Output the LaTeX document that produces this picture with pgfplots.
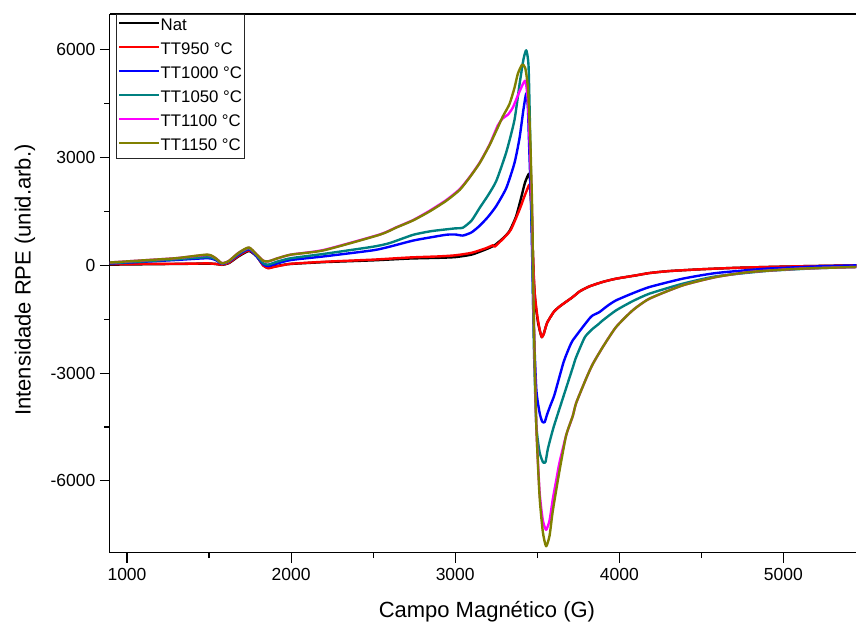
\documentclass[border=0pt]{standalone}
\usepackage{pgfplots}
\pgfplotsset{compat=1.18}
\usepackage{fontspec}
\setmainfont{Liberation Sans}
\definecolor{cteal}{RGB}{0,128,128}
\definecolor{colive}{RGB}{128,128,0}
\definecolor{cmag}{RGB}{255,0,255}

\begin{document}
\begin{tikzpicture}[x=1pt,y=1pt]
\begin{axis}[
  at={(0,0)}, anchor=south west,
  scale only axis, width=747pt, height=539pt,
  xmin=896, xmax=5445, ymin=-8000, ymax=7000,
  axis x line*=bottom, axis y line*=left,
  axis line style={line width=1.1pt, black, -},
  tick align=outside,
  major tick length=10pt, minor tick length=5.5pt,
  tick style={line width=1.1pt, black},
  xtick={1000,2000,3000,4000,5000},
  xticklabels={1000,2000,3000,4000,5000},
  ytick={-6000,-3000,0,3000,6000},
  yticklabels={-6000,-3000,0,3000,6000},
  minor x tick num=1, minor y tick num=1,
  ticklabel style={font=\fontsize{17.5}{20}\selectfont},
  xticklabel style={yshift=-2pt},
  yticklabel style={xshift=-1pt},
  xlabel={Campo Magnético (G)},
  ylabel={Intensidade RPE (unid.arb.)},
  xlabel style={font=\fontsize{22}{26}\selectfont, at={(axis description cs:0.505,-0.11)}, anchor=center},
  ylabel style={font=\fontsize{22}{26}\selectfont, at={(axis description cs:-0.114,0.506)}, anchor=center, rotate=0},
  legend style={at={(axis description cs:0.008,1)}, anchor=north west,
    draw=black!85, line width=0.8pt, fill=white,
    font=\fontsize{16.8}{19}\selectfont,
    inner xsep=2pt, inner ysep=0pt, row sep=0pt,
    nodes={inner sep=0pt, text height=13pt, text depth=4pt, inner ysep=3.5pt}},
  legend cell align=left,
  legend image code/.code={\draw[#1, line width=2.4pt] (0pt,0.6ex) -- (40pt,0.6ex);},
  every axis plot/.append style={line width=2.4pt, line join=round, smooth, tension=0.35},
]
% Nat
\addplot[black] coordinates {
(896,20)(1000,25)(1200,35)(1400,45)(1490,50)(1540,40)(1578,15)(1620,60)(1680,250)(1743,400)(1790,250)(1830,0)(1860,-70)(1900,-30)(1960,20)(2000,40)(2200,90)(2500,140)(2722,190)(2900,210)(3000,230)(3100,300)(3189,450)(3240,560)(3290,750)(3330,950)(3370,1350)(3400,1850)(3425,2300)(3449,2550)(3458,2300)(3465,1500)(3472,500)(3480,-500)(3490,-1100)(3505,-1600)(3520,-1900)(3528,-2000)(3540,-1900)(3560,-1600)(3600,-1300)(3635,-1150)(3680,-1000)(3716,-883)(3760,-720)(3818,-585)(3900,-460)(3980,-371)(4100,-280)(4183,-214)(4300,-160)(4487,-111)(4700,-70)(4893,-46)(5100,-25)(5300,-10)(5445,0)
};
\addlegendentry{Nat}
% TT950
\addplot[red] coordinates {
(896,30)(1000,35)(1200,42)(1400,48)(1490,55)(1540,40)(1578,20)(1620,70)(1680,270)(1743,420)(1790,260)(1830,0)(1860,-80)(1900,-40)(1960,15)(2000,45)(2200,100)(2500,160)(2722,220)(2900,250)(3000,280)(3100,350)(3189,480)(3230,560)(3240,520)(3260,600)(3300,780)(3340,1000)(3392,1552)(3420,1900)(3433,2051)(3453,2248)(3462,1800)(3470,800)(3477,-100)(3485,-800)(3500,-1400)(3515,-1800)(3528,-2000)(3540,-1900)(3560,-1600)(3600,-1300)(3635,-1150)(3680,-1000)(3716,-883)(3760,-720)(3818,-585)(3900,-460)(3980,-371)(4100,-280)(4183,-214)(4300,-160)(4487,-111)(4700,-70)(4893,-46)(5100,-25)(5300,-10)(5445,0)
};
\addlegendentry{TT950 °C}
% TT1000
\addplot[blue] coordinates {
(896,50)(1100,100)(1300,150)(1490,200)(1540,150)(1578,40)(1620,100)(1680,300)(1743,450)(1790,250)(1830,30)(1860,-20)(1920,60)(2000,150)(2200,250)(2500,420)(2600,520)(2743,690)(2850,780)(2946,853)(3000,860)(3047,830)(3100,920)(3149,1103)(3200,1350)(3250,1652)(3311,2151)(3361,2847)(3392,3546)(3416,4346)(3433,4792)(3443,4400)(3449,3546)(3463,1552)(3477,-1440)(3494,-3435)(3514,-4100)(3530,-4350)(3545,-4365)(3560,-4150)(3580,-3900)(3605,-3600)(3660,-2700)(3696,-2276)(3716,-2090)(3777,-1719)(3818,-1480)(3838,-1393)(3879,-1300)(3930,-1120)(3980,-975)(4080,-780)(4183,-604)(4386,-371)(4589,-214)(4893,-93)(5200,-30)(5445,0)
};
\addlegendentry{TT1000 °C}
% TT1050
\addplot[cteal] coordinates {
(896,60)(1100,110)(1300,170)(1490,230)(1540,170)(1578,50)(1620,110)(1680,320)(1743,470)(1790,280)(1830,60)(1860,20)(1920,110)(2000,200)(2200,320)(2500,520)(2600,620)(2743,850)(2850,950)(2946,1003)(3000,1030)(3047,1050)(3100,1250)(3149,1600)(3200,1950)(3250,2348)(3311,3148)(3361,4045)(3392,5043)(3416,5739)(3433,5990)(3447,5541)(3457,3546)(3469,557)(3479,-2190)(3494,-4431)(3514,-5200)(3535,-5480)(3550,-5479)(3565,-5100)(3600,-4500)(3656,-3700)(3716,-2850)(3737,-2555)(3790,-2000)(3838,-1765)(3870,-1650)(3899,-1532)(3980,-1254)(4080,-1000)(4183,-789)(4386,-511)(4589,-306)(4893,-158)(5200,-80)(5445,-46)
};
\addlegendentry{TT1050 °C}
% TT1100
\addplot[cmag] coordinates {
(896,80)(1100,140)(1300,200)(1490,290)(1540,200)(1578,60)(1620,120)(1680,350)(1743,490)(1790,300)(1830,130)(1860,110)(1920,200)(2000,300)(2200,430)(2540,860)(2641,1060)(2743,1260)(2844,1520)(2946,1820)(3027,2120)(3088,2460)(3149,2860)(3209,3360)(3260,3900)(3290,4095)(3321,4196)(3351,4394)(3392,4842)(3427,5143)(3443,4544)(3457,3048)(3469,1300)(3479,-1500)(3494,-4432)(3514,-6300)(3534,-7100)(3554,-7364)(3575,-7100)(3595,-6500)(3615,-6000)(3635,-5500)(3676,-4733)(3716,-4200)(3737,-3834)(3798,-3150)(3838,-2750)(3899,-2276)(3980,-1719)(4081,-1254)(4183,-929)(4386,-557)(4589,-325)(4792,-186)(5096,-93)(5445,-46)
};
\addlegendentry{TT1100 °C}
% TT1150
\addplot[colive] coordinates {
(896,80)(1100,140)(1300,200)(1490,300)(1540,200)(1578,60)(1620,120)(1680,350)(1743,500)(1790,300)(1830,130)(1860,110)(1920,200)(2000,300)(2200,420)(2540,853)(2641,1053)(2743,1251)(2844,1502)(2946,1800)(3027,2100)(3088,2449)(3149,2847)(3209,3346)(3260,3845)(3290,4145)(3331,4494)(3361,4942)(3382,5341)(3408,5591)(3427,5491)(3443,4942)(3457,3546)(3469,1552)(3479,-1440)(3494,-4432)(3514,-6427)(3534,-7425)(3554,-7823)(3575,-7525)(3595,-6826)(3635,-5731)(3676,-4733)(3716,-4200)(3737,-3834)(3798,-3150)(3838,-2750)(3899,-2276)(3980,-1719)(4081,-1254)(4183,-929)(4386,-557)(4589,-325)(4792,-186)(5096,-93)(5445,-46)
};
\addlegendentry{TT1150 °C}
\draw[line width=1.1pt, black] (rel axis cs:0,1) -- (rel axis cs:1,1);
\end{axis}
\useasboundingbox (-110,-73) rectangle (747,553);
\end{tikzpicture}
\end{document}
